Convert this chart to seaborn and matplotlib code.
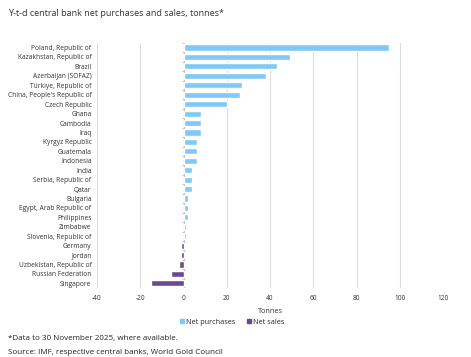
import matplotlib
matplotlib.use("Agg")
import matplotlib.pyplot as plt
import seaborn as sns
import pandas as pd

# Y-t-d net purchases / sales by central bank, tonnes
countries = [
    "Poland, Republic of", "Kazakhstan, Republic of", "Brazil", "Azerbaijan (SOFAZ)",
    "Türkiye, Republic of", "China, People's Republic of", "Czech Republic", "Ghana",
    "Cambodia", "Iraq", "Kyrgyz Republic", "Guatemala", "Indonesia", "India",
    "Serbia, Republic of", "Qatar", "Bulgaria", "Egypt, Arab Republic of",
    "Philippines", "Zimbabwe", "Slovenia, Republic of", "Germany", "Jordan",
    "Uzbekistan, Republic of", "Russian Federation", "Singapore",
]
tonnes = [95, 49, 43, 38, 27, 26, 20, 8, 8, 8, 6, 6, 6, 4, 4, 4, 2, 2, 2, 1, 1,
          -1, -1, -2, -6, -15]
x_ticks = [-40, -20, 0, 20, 40, 60, 80, 100, 120]

df = pd.DataFrame({"country": countries, "tonnes": tonnes})
df["type"] = ["Net purchases" if v >= 0 else "Net sales" for v in df["tonnes"]]

sns.set_style("white")
plt.rcParams["font.family"] = ["Open Sans", "DejaVu Sans"]

colors = {"Net purchases": "#80c9f5", "Net sales": "#6b4a8e"}

fig = plt.figure(figsize=(4.71, 3.57), dpi=100)
ax = fig.add_axes([0.206, 0.193, 0.735, 0.687])

sns.barplot(data=df, x="tonnes", y="country", hue="type", palette=colors,
            dodge=False, width=0.65, saturation=1, ax=ax, legend=False, zorder=2)

ax.set_xlim(-40, 120)
ax.set_xticks(x_ticks)
ax.set_xticklabels([str(t) for t in x_ticks], fontsize=4.7, color="#333333")
ax.tick_params(axis="x", length=0, pad=5)
ax.tick_params(axis="y", length=0, pad=4, labelsize=4.8, labelcolor="#333333")
ax.set_ylabel("")
ax.set_xlabel("Tonnes", fontsize=5.2, color="#333333", labelpad=4)

for s in ax.spines.values():
    s.set_visible(False)
ax.grid(axis="x", color="#dcdcdc", linewidth=0.8)
ax.set_axisbelow(True)

# zero line with small ticks, drawn under the bars
ax.axvline(0, color="#bfbfbf", linewidth=0.8, zorder=1)
for i in range(len(countries) + 1):
    ax.plot([-0.9, 0], [i - 0.5, i - 0.5], color="#bfbfbf", linewidth=0.6, zorder=1)
ax.set_ylim(len(countries) - 0.5, -0.5)

handles = [plt.Rectangle((0, 0), 1, 1, color=colors[k]) for k in colors]
fig.legend(handles, list(colors.keys()), loc="center", bbox_to_anchor=(0.493, 0.098),
           ncol=2, frameon=False, fontsize=5.2, handlelength=0.6, handleheight=0.6,
           handletextpad=0.3, columnspacing=1.6)

fig.text(0.017, 0.962, "Y-t-d central bank net purchases and sales, tonnes*",
         fontsize=6.5, color="#333333", va="center")
fig.text(0.017, 0.052, "*Data to 30 November 2025, where available.",
         fontsize=5.8, color="#222222", va="center")
fig.text(0.017, 0.013, "Source: IMF, respective central banks, World Gold Council",
         fontsize=5.8, color="#222222", va="center")

fig.savefig("out.png", dpi=100)
